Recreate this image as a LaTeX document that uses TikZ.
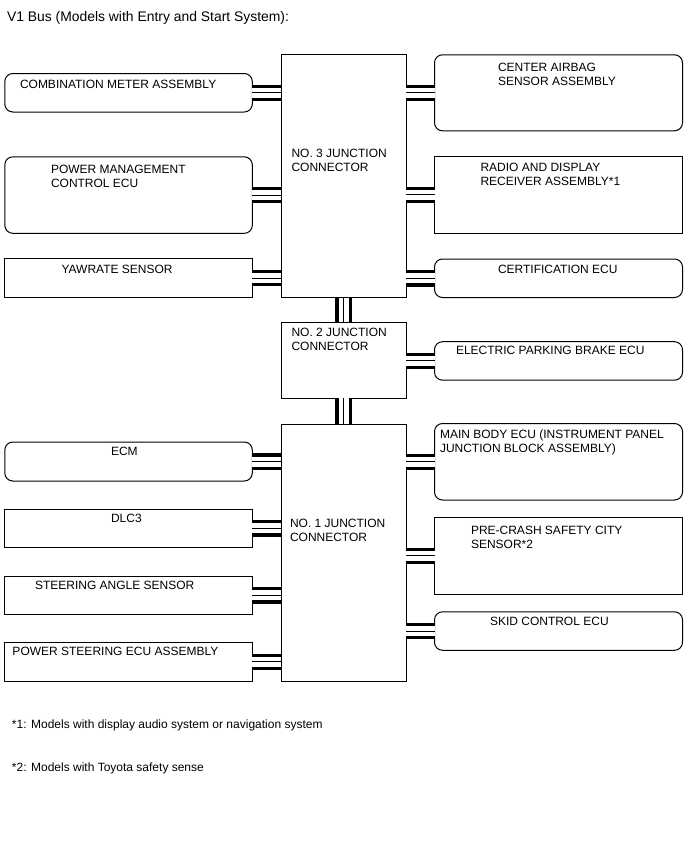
\documentclass[tikz,border=0pt]{standalone}
\usepackage{fontspec}
\setmainfont{Liberation Sans}
\newcommand{\lbfont}{\fontsize{12}{14}\selectfont}
\newcommand{\ttlfont}{\fontsize{13.9}{16}\selectfont}
\tikzset{
  box/.style={draw, line width=1pt, rectangle, inner sep=0pt, outer sep=0pt, anchor=north west},
  rbox/.style={box, rounded corners=8pt},
  lbl/.style={anchor=base west, inner sep=0pt, outer sep=0pt, font=\lbfont, align=left},
  bus/.style={draw=white, line width=10pt, preaction={draw=black, line width=16.5pt}, postaction={draw=black, line width=1pt}},
}
\begin{document}
\begin{tikzpicture}[x=1pt, y=-1pt]
\useasboundingbox (0,0) rectangle (688,852);
% title
\node[lbl, font=\ttlfont] (title) at (7,21) {V1 Bus (Models with Entry and Start System):};
% junction connectors
\node[box, minimum width=125pt, minimum height=243pt] (j3) at (281,54.5) {};
\node[box, minimum width=125pt, minimum height=76pt] (j2) at (281,322.3) {};
\node[box, minimum width=125pt, minimum height=257pt] (j1) at (281,424) {};
% left boxes
\node[rbox, minimum width=247.5pt, minimum height=38.5pt] (cm) at (4.8,73.5) {};
\node[rbox, minimum width=247.5pt, minimum height=76.5pt] (pm) at (4.8,156.8) {};
\node[box, minimum width=247.5pt, minimum height=38.5pt] (yr) at (4.8,258.8) {};
\node[rbox, minimum width=247.5pt, minimum height=39pt] (ecm) at (4.8,442) {};
\node[box, minimum width=247.5pt, minimum height=38.5pt] (dlc) at (4.8,509) {};
\node[box, minimum width=247.5pt, minimum height=38.5pt] (sas) at (4.8,576) {};
\node[box, minimum width=247.5pt, minimum height=38.5pt] (ps) at (4.8,642.5) {};
% right boxes
\node[rbox, minimum width=248pt, minimum height=76pt] (ca) at (434.5,54.8) {};
\node[box, minimum width=248pt, minimum height=77pt] (rd) at (434.5,156.3) {};
\node[rbox, minimum width=248pt, minimum height=38.5pt] (ce) at (434.5,259) {};
\node[rbox, minimum width=248pt, minimum height=38.5pt] (epb) at (434.5,341.7) {};
\node[rbox, minimum width=248pt, minimum height=76.5pt] (mb) at (434.5,423.5) {};
\node[box, minimum width=248pt, minimum height=76.5pt] (pc) at (434.5,517.5) {};
\node[rbox, minimum width=248pt, minimum height=38.5pt] (sk) at (434.5,611.8) {};
% labels (two-line labels: position is baseline of last line)
\node[lbl] at (20,88) {COMBINATION METER ASSEMBLY};
\node[lbl] at (51,187) {POWER MANAGEMENT\\CONTROL ECU};
\node[lbl] at (61.5,273) {YAWRATE SENSOR};
\node[lbl] at (111,455.5) {ECM};
\node[lbl] at (111,522) {DLC3};
\node[lbl] at (35,589) {STEERING ANGLE SENSOR};
\node[lbl] at (12.5,655.5) {POWER STEERING ECU ASSEMBLY};
\node[lbl] at (291.5,171.5) {NO. 3 JUNCTION\\CONNECTOR};
\node[lbl] at (291.5,350) {NO. 2 JUNCTION\\CONNECTOR};
\node[lbl] at (290,541.5) {NO. 1 JUNCTION\\CONNECTOR};
\node[lbl] at (498,85) {CENTER AIRBAG\\SENSOR ASSEMBLY};
\node[lbl] at (480.5,185.5) {RADIO AND DISPLAY\\RECEIVER ASSEMBLY*1};
\node[lbl] at (498,273) {CERTIFICATION ECU};
\node[lbl] at (456,354) {ELECTRIC PARKING BRAKE ECU};
\node[lbl] at (440,452) {MAIN BODY ECU (INSTRUMENT PANEL\\JUNCTION BLOCK ASSEMBLY)};
\node[lbl] at (471,548) {PRE-CRASH SAFETY CITY\\SENSOR*2};
\node[lbl] at (490,625.5) {SKID CONTROL ECU};
\node[lbl] (fn1) at (12,728) {*1: Models with display audio system or navigation system};
\node[lbl] (fn2) at (12,771) {*2: Models with Toyota safety sense};
% bus connectors
\foreach \b in {cm,pm,yr}{\draw[bus] (\b.east) -- (\b.east -| j3.west);}
\foreach \b in {ecm,dlc,sas,ps}{\draw[bus] (\b.east) -- (\b.east -| j1.west);}
\foreach \b in {ca,rd,ce}{\draw[bus] (\b.west) -- (\b.west -| j3.east);}
\draw[bus] (epb.west) -- (epb.west -| j2.east);
\foreach \b in {mb,pc,sk}{\draw[bus] (\b.west) -- (\b.west -| j1.east);}
\draw[bus] (j3.south) -- (j2.north);
\draw[bus] (j2.south) -- (j1.north);
\end{tikzpicture}
\end{document}
